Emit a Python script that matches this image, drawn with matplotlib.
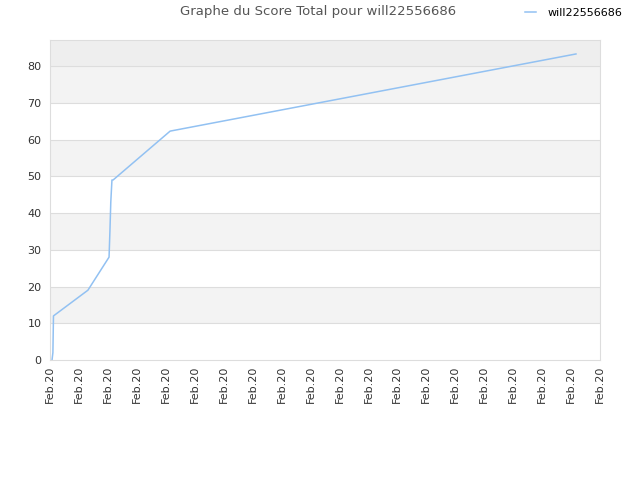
import matplotlib
matplotlib.use("Agg")
import matplotlib.pyplot as plt

player = "will22556686"
x_vals = [0.07, 0.10, 0.12, 1.31, 2.04, 2.07, 2.10, 2.14, 2.18, 4.15, 18.17]
scores = [0, 2, 12, 19, 28, 35, 43, 49, 49, 62.3, 83.3]
tick_labels = ["Feb.20"] * 20

fig = plt.figure(figsize=(6.4, 4.8), dpi=100)
ax = fig.add_axes([50/640, 120/480, 550/640, 320/480])
ymax = 87.1
ax.set_xlim(0, 19)
ax.set_ylim(0, ymax)

# background bands
for lo in range(10, 80, 20):
    ax.axhspan(lo, lo + 10, color="#f3f3f3", zorder=0, lw=0)
ax.axhspan(80, ymax, color="#eeeeee", zorder=0, lw=0)
for y in range(10, 90, 10):
    ax.axhline(y, color="#dddddd", lw=0.8, zorder=1)

ax.plot(x_vals, scores, color="#92c1f2", lw=1.1, label=player, zorder=3)

ax.set_xticks(range(20))
ax.set_xticklabels(tick_labels, rotation=90, fontsize=8, color="#333333")
ax.set_yticks(range(0, 90, 10))
ax.tick_params(axis="y", labelsize=8, colors="#333333", length=0, pad=6)
ax.tick_params(axis="x", length=0, pad=4, colors="#333333")
for s in ax.spines.values():
    s.set_color("#dddddd")

fig.text(318/640, 1 - 12/480, "Graphe du Score Total pour will22556686",
         ha="center", va="center", fontsize=9.5, color="#555555")
fig.legend(loc="upper right", bbox_to_anchor=(632/640, 1 + 2/480), frameon=False,
           fontsize=8, handlelength=1.0, handletextpad=1.0)

fig.savefig("out.png", dpi=100)
